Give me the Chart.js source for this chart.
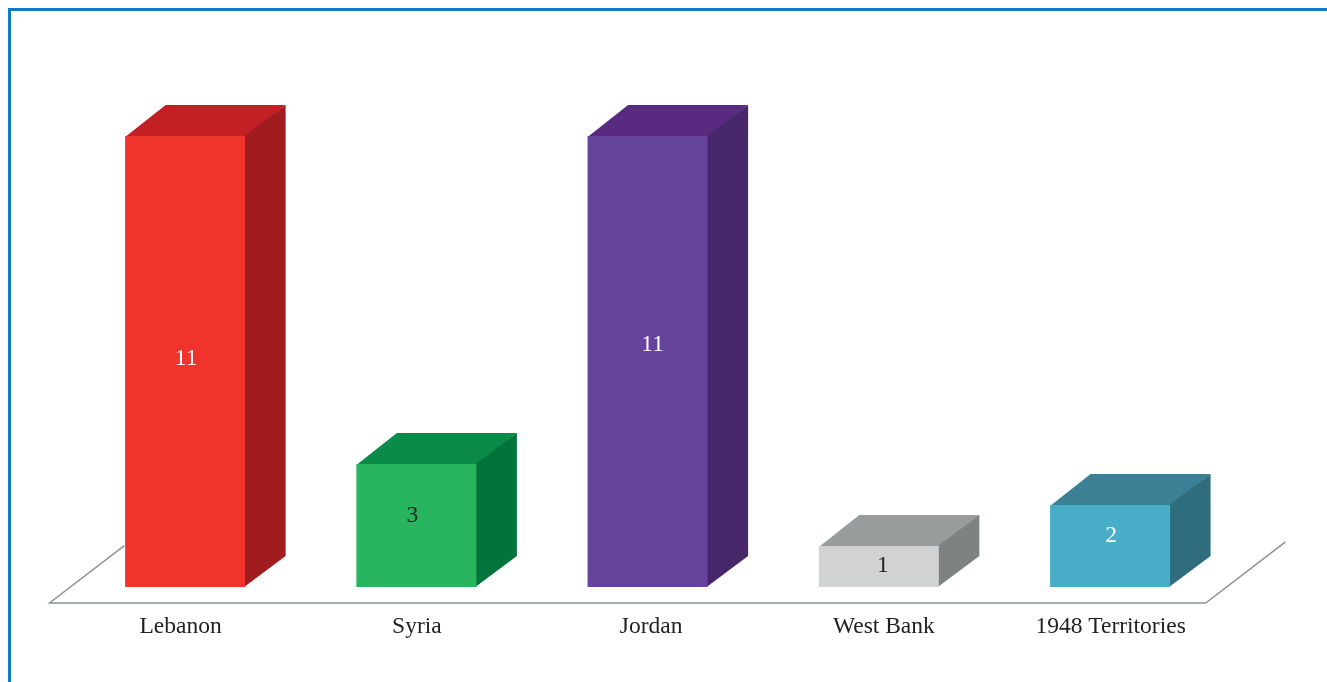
<!DOCTYPE html>
<html>
<head>
<meta charset="utf-8">
<title>Chart</title>
<script src="https://cdn.jsdelivr.net/npm/chart.js@4/dist/chart.umd.min.js"></script>
<style>
    html, body { margin: 0; background: #fff; overflow: hidden; }
    #frame {
        position: absolute; left: 8px; top: 8px; width: 1340px; height: 700px;
        border: 3px solid #0a7cc4; box-sizing: border-box;
    }
    #myChart { position: absolute; left: 0; top: 0; }
</style>
</head>
<body>
<div id="frame"></div>
<canvas id="myChart" width="1327" height="682"></canvas>
<script>
const categories = ['Lebanon', 'Syria', 'Jordan', 'West Bank', '1948 Territories'];
const values = [11, 3, 11, 1, 2];

const frontColors = ['#f0332c', '#29b45f', '#65439a', '#d1d3d2', '#48aec7'];
const topColors = ['#c32025', '#0a8b48', '#582b80', '#999c9c', '#3c8095'];
const sideColors = ['#a01c1f', '#00743a', '#46286a', '#7e8283', '#2f6d7e'];
const labelColors = ['#ffffff', '#222222', '#ffffff', '#222222', '#ffffff'];
const labelShiftX = [1, -4, 5, 4, 1];
const labelShiftY = [-3, -10, -17, -1, -10];
const tickShiftX = [-4.5, 0.5, 3.5, 5, 0.5];

const depthX = 40.5;
const depthY = 31;
const floorDrop = 16;
const tickDrop = 40;
const serif = '"Liberation Serif", serif';

function face(ctx, points, color) {
    ctx.fillStyle = color;
    ctx.beginPath();
    points.forEach((p, i) => i ? ctx.lineTo(p[0], p[1]) : ctx.moveTo(p[0], p[1]));
    ctx.closePath();
    ctx.fill();
}

// floor outline first, then the top and side of each box, so the front covers the seams
const backPlugin = {
    id: 'back',
    beforeDatasetsDraw(chart) {
        const { ctx, chartArea } = chart;
        const y = chartArea.bottom + floorDrop;
        const left = chartArea.left - 20;
        const right = chartArea.right - 20;
        ctx.save();
        ctx.strokeStyle = '#8f9392';
        ctx.lineWidth = 1.5;
        ctx.beginPath();
        ctx.moveTo(left + depthX * 1.85, y - depthY * 1.85);
        ctx.lineTo(left, y);
        ctx.lineTo(right, y);
        ctx.lineTo(right + depthX * 1.97, y - depthY * 1.97);
        ctx.stroke();
        chart.getDatasetMeta(0).data.forEach((bar, i) => {
            const half = bar.width / 2;
            const l = bar.x - half;
            const r = bar.x + half;
            face(ctx, [[l, bar.y + 1], [l + depthX, bar.y - depthY], [r + depthX, bar.y - depthY], [r, bar.y + 1]], topColors[i]);
            face(ctx, [[r - 1, bar.y], [r + depthX, bar.y - depthY], [r + depthX, bar.base - depthY], [r - 1, bar.base]], sideColors[i]);
        });
        ctx.restore();
    }
};

// value labels and category names
const textPlugin = {
    id: 'text',
    afterDatasetsDraw(chart) {
        const { ctx, chartArea } = chart;
        ctx.save();
        ctx.font = '23.5px ' + serif;
        ctx.textAlign = 'center';
        ctx.textBaseline = 'middle';
        chart.getDatasetMeta(0).data.forEach((bar, i) => {
            ctx.fillStyle = labelColors[i];
            ctx.fillText(values[i], bar.x + labelShiftX[i], (bar.y + bar.base) / 2 + labelShiftY[i]);
            ctx.fillStyle = '#222222';
            ctx.fillText(categories[i], bar.x + tickShiftX[i], chartArea.bottom + tickDrop);
        });
        ctx.restore();
    }
};

const ctx = document.getElementById('myChart').getContext('2d');
const myChart = new Chart(ctx, {
    type: 'bar',
    data: {
        labels: categories,
        datasets: [{
            data: values,
            backgroundColor: frontColors,
            borderWidth: 0,
            barPercentage: 0.519,
            categoryPercentage: 1
        }]
    },
    options: {
        responsive: false,
        animation: false,
        layout: { padding: { left: 69.5, right: 101.3, top: 95, bottom: 35 } },
        plugins: { legend: { display: false }, tooltip: { enabled: false } },
        scales: {
            x: {
                afterFit: scale => { scale.height = 60; },
                grid: { display: false, drawTicks: false },
                border: { display: false },
                ticks: { display: false }
            },
            y: { display: false, min: 0, max: 12 }
        }
    },
    plugins: [backPlugin, textPlugin]
});
</script>
</body>
</html>
